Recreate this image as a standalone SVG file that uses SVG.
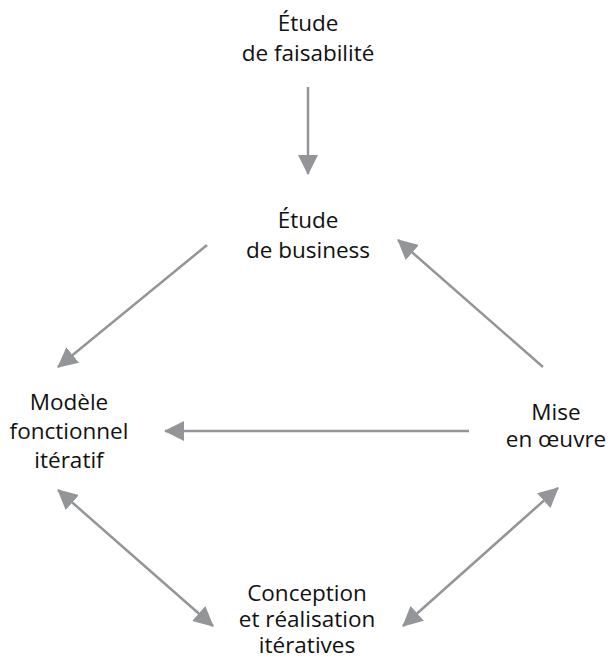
<svg xmlns="http://www.w3.org/2000/svg" width="608" height="660" viewBox="0 0 608 660">
  <style>
    .lbl { font-family: "Open Sans", "Noto Sans", "DejaVu Sans", sans-serif; font-size: 22.5px; fill: #111111; text-anchor: middle; }
    .edge { stroke: #939598; stroke-width: 2.5; fill: none; }
  </style>
  <defs>
    <marker id="head" viewBox="0 0 20 20" refX="19" refY="10" markerWidth="20" markerHeight="20" markerUnits="userSpaceOnUse" orient="auto-start-reverse">
      <path d="M0,0 L20,10 L0,20 z" fill="#939598"/>
    </marker>
  </defs>

  <g id="faisabilite">
    <text class="lbl" x="308" y="31">Étude</text>
    <text class="lbl" x="308" y="61">de faisabilité</text>
  </g>

  <g id="business">
    <text class="lbl" x="308" y="228">Étude</text>
    <text class="lbl" x="308" y="258">de business</text>
  </g>

  <g id="modele">
    <text class="lbl" x="69" y="410">Modèle</text>
    <text class="lbl" x="69" y="439">fonctionnel</text>
    <text class="lbl" x="69" y="468">itératif</text>
  </g>

  <g id="miseenoeuvre">
    <text class="lbl" x="556" y="420">Mise</text>
    <text class="lbl" x="556" y="447">en œuvre</text>
  </g>

  <g id="conception">
    <text class="lbl" x="307" y="601">Conception</text>
    <text class="lbl" x="307" y="627">et réalisation</text>
    <text class="lbl" x="307" y="653">itératives</text>
  </g>

  <g id="connectors">
    <line class="edge" x1="308" y1="87" x2="308" y2="174" marker-end="url(#head)"/>
    <line class="edge" x1="207" y1="245" x2="58" y2="367" marker-end="url(#head)"/>
    <line class="edge" x1="543" y1="367" x2="398" y2="240" marker-end="url(#head)"/>
    <line class="edge" x1="469" y1="431" x2="165" y2="431" marker-end="url(#head)"/>
    <line class="edge" x1="58" y1="490" x2="213" y2="626" marker-start="url(#head)" marker-end="url(#head)"/>
    <line class="edge" x1="558" y1="488" x2="403" y2="626" marker-start="url(#head)" marker-end="url(#head)"/>
  </g>
</svg>
